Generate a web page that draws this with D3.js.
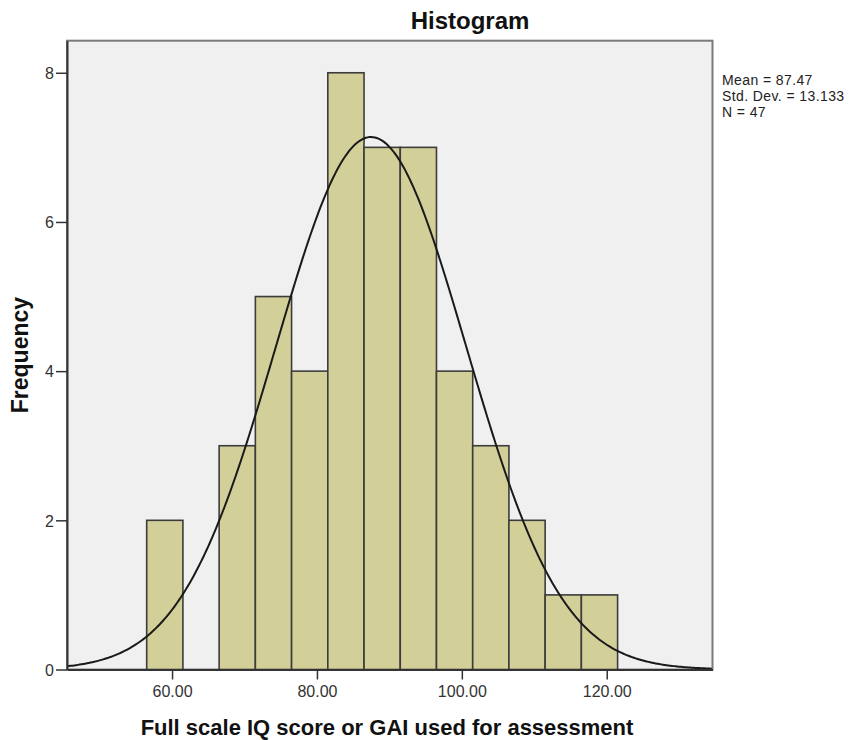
<!DOCTYPE html>
<html>
<head>
<meta charset="utf-8">
<script src="https://cdn.jsdelivr.net/npm/d3@7"></script>
<style>
  body { margin: 0; background: #fff; }
  text { font-family: Arial, "Liberation Sans", sans-serif; }
</style>
</head>
<body>
<div id="chart"></div>
<script>
// histogram bins (width 5) and counts
var binEdges  = [56.5, 61.5, 66.5, 71.5, 76.5, 81.5, 86.5, 91.5, 96.5, 101.5, 106.5, 111.5, 116.5, 121.5];
var binCounts = [2, 0, 3, 5, 4, 8, 7, 7, 4, 3, 2, 1, 1];
var xTicks = [60, 80, 100, 120];
var yTicks = [0, 2, 4, 6, 8];
var statLines = ["Mean = 87.47", "Std. Dev. = 13.133", "N = 47"];
var mean = 87.47, sd = 13.133, nObs = 47;

var width = 862, height = 740;
var plot = {left: 67, right: 712.5, top: 40.7, bottom: 669.5};

var svg = d3.select('#chart').append('svg')
    .attr('width', width)
    .attr('height', height);

var Xscale = d3.scaleLinear()
    .domain([45.5, 134.6])
    .range([plot.left, plot.right]);

var Yscale = d3.scaleLinear()
    .domain([0, 8.43])
    .range([plot.bottom, plot.top]);

// plot background + frame
svg.append('rect')
    .attr('x', plot.left)
    .attr('y', plot.top)
    .attr('width', plot.right - plot.left)
    .attr('height', plot.bottom - plot.top)
    .attr('fill', '#f0f0f0')
    .attr('stroke', '#7a7a7a')
    .attr('stroke-width', 2);

var bins = binCounts.map(function(c, i){ return {x0: binEdges[i], x1: binEdges[i+1], n: c}; })
    .filter(function(d){ return d.n > 0; });

svg.selectAll('rect.bar')
    .data(bins)
    .enter().append('rect')
    .attr('class', 'bar')
    .attr('x', function(d){ return Xscale(d.x0); })
    .attr('y', function(d){ return Yscale(d.n); })
    .attr('width', function(d){ return Xscale(d.x1) - Xscale(d.x0); })
    .attr('height', function(d){ return Yscale(0) - Yscale(d.n); })
    .attr('fill', '#d3cf99')
    .attr('stroke', '#3c3c3c')
    .attr('stroke-width', 1.6);

// normal curve scaled to counts (N * bin width * pdf)
var binW = binEdges[1] - binEdges[0];
var curvePts = d3.range(Xscale.domain()[0], Xscale.domain()[1] + 0.01, 0.25).map(function(x){
    var z = (x - mean) / sd;
    return {x: x, y: nObs * binW * Math.exp(-0.5 * z * z) / (sd * Math.sqrt(2 * Math.PI))};
});

var normLine = d3.line()
    .x(function(d){ return Xscale(d.x); })
    .y(function(d){ return Yscale(d.y); });

svg.append('path')
    .datum(curvePts)
    .attr('d', normLine)
    .attr('fill', 'none')
    .attr('stroke', '#1a1a1a')
    .attr('stroke-width', 2);

// axes
var axisX = svg.append('g')
    .attr('transform', 'translate(0,' + plot.bottom + ')')
    .call(d3.axisBottom(Xscale).tickValues(xTicks).tickFormat(d3.format('.2f'))
        .tickSizeInner(10).tickSizeOuter(0).tickPadding(6));

var axisY = svg.append('g')
    .attr('transform', 'translate(' + plot.left + ',0)')
    .call(d3.axisLeft(Yscale).tickValues(yTicks).tickFormat(d3.format('d'))
        .tickSizeInner(11).tickSizeOuter(0).tickPadding(2));

[axisX, axisY].forEach(function(a){
    a.select('.domain').attr('stroke', '#333').attr('stroke-width', 2);
    a.selectAll('.tick line').attr('stroke', '#333').attr('stroke-width', 1.5);
    a.selectAll('.tick text')
        .attr('fill', '#333')
        .style('font-size', '16px')
        .style('font-family', 'Arial, "Liberation Sans", sans-serif');
});
axisY.selectAll('.tick text').attr('dy', '0.36em');

// title
svg.append('text')
    .attr('x', 470)
    .attr('y', 29)
    .attr('text-anchor', 'middle')
    .style('font-size', '24px')
    .style('font-weight', 'bold')
    .attr('fill', '#111')
    .text('Histogram');

// X label
svg.append('text')
    .attr('x', 387)
    .attr('y', 735)
    .attr('text-anchor', 'middle')
    .style('font-size', '22px')
    .style('font-weight', 'bold')
    .attr('fill', '#111')
    .text('Full scale IQ score or GAI used for assessment');

// Y label
svg.append('text')
    .attr('transform', 'translate(28,' + (plot.top + plot.bottom) / 2 + ') rotate(-90)')
    .attr('text-anchor', 'middle')
    .style('font-size', '23px')
    .style('font-weight', 'bold')
    .attr('fill', '#111')
    .text('Frequency');

// stats box
svg.append('g').selectAll('text')
    .data(statLines)
    .enter().append('text')
    .attr('x', 722)
    .attr('y', function(d, i){ return 85 + i * 16.2; })
    .style('font-size', '14px')
    .style('letter-spacing', '0.4px')
    .attr('fill', '#222')
    .text(function(d){ return d; });
</script>
</body>
</html>
